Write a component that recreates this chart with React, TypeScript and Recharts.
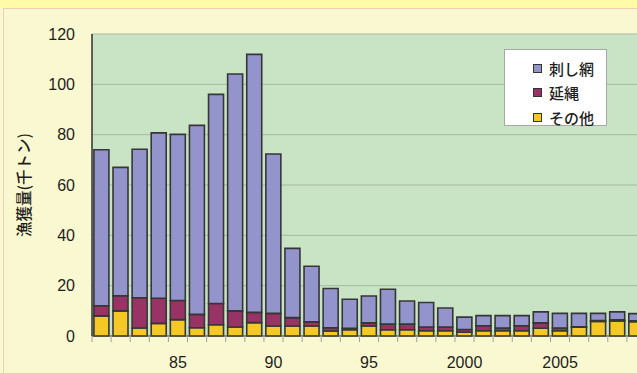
import { BarChart, Bar, XAxis, YAxis, CartesianGrid, Legend } from 'recharts'

// 年（1981〜2009、右端は画像の外にはみ出す）
const years = [
  1981, 1982, 1983, 1984, 1985, 1986, 1987, 1988, 1989, 1990,
  1991, 1992, 1993, 1994, 1995, 1996, 1997, 1998, 1999, 2000,
  2001, 2002, 2003, 2004, 2005, 2006, 2007, 2008, 2009,
]
// 刺し網
const gillnet = [
  62, 51, 59, 65.7, 66, 75.1, 83.1, 94.1, 102.5, 63.3,
  27.5, 22.1, 15.6, 11.5, 10.7, 13.9, 9.2, 9.7, 7.5, 4.9,
  4, 4.9, 4, 4.4, 5.8, 5.3, 2.9, 3.2, 2.9,
]
// 延縄
const longline = [
  4, 6, 12, 10, 7.6, 5.3, 8.4, 6.4, 4.1, 5,
  3.3, 1.6, 1.3, 0.6, 1.2, 2.2, 2.2, 1.5, 1.5, 1.1,
  2, 1.1, 2, 2.1, 1.1, 0.2, 0.3, 0.4, 0.3,
]
// その他
const others = [
  8, 10, 3.2, 5, 6.5, 3.3, 4.5, 3.6, 5.3, 4,
  4, 4, 2, 2.5, 4, 2.5, 2.5, 2.1, 2.1, 1.5,
  2.1, 2.1, 2.1, 3.1, 2.1, 3.5, 5.8, 6, 5.7,
]
const yTicks = [0, 20, 40, 60, 80, 100, 120]

const series = [
  { key: 'gillnet', name: '刺し網', color: '#9494CC' },
  { key: 'longline', name: '延縄', color: '#993366' },
  { key: 'others', name: 'その他', color: '#F5C823' },
]

const data = years.map((year, i) => ({
  year,
  gillnet: gillnet[i],
  longline: longline[i],
  others: others[i],
}))

const W = 656
const H = 373
const Y_W = 92
const X_H = 37
const MARGIN = { top: 34, right: 10, left: 0, bottom: 0 }
const BAND = (W - MARGIN.left - MARGIN.right - Y_W) / years.length

const FONT = '"Liberation Sans", Arial, "Noto Sans CJK JP", sans-serif'
const JP_FONT = '"Noto Sans CJK JP", sans-serif'

const YearTick = ({ x, y, payload }: any) => {
  const yr = payload.value as number
  const lx = x - BAND / 2
  const show = yr % 5 === 0
  const label = yr < 2000 ? String(yr - 1900) : String(yr)
  return (
    <g>
      <line x1={lx} x2={lx} y1={y} y2={y + 6} stroke="#a0a0a0" strokeWidth={1} />
      {show && (
        <text x={x} y={y + 32} textAnchor="middle" fontSize={16} fill="#1e1e1e" fontFamily={FONT}>
          {label}
        </text>
      )}
    </g>
  )
}

const LegendBox = () => (
  <div
    style={{
      width: 103,
      height: 77,
      boxSizing: 'border-box',
      background: '#fff',
      border: '1px solid #a8a8a8',
      padding: '6px 0 0 28px',
      fontFamily: JP_FONT,
      fontSize: 15,
      fontWeight: 500,
      color: '#1e1e1e',
    }}
  >
    {series.map(s => (
      <div key={s.key} style={{ display: 'flex', alignItems: 'center', height: 24.5 }}>
        <span
          style={{
            display: 'inline-block',
            width: 7,
            height: 7,
            background: s.color,
            border: '1px solid #333',
            marginRight: 7,
          }}
        />
        <span>{s.name}</span>
      </div>
    ))}
  </div>
)

export default function App() {
  return (
    <div
      style={{
        position: 'fixed',
        left: 0,
        top: 0,
        width: 637,
        height: 373,
        overflow: 'hidden',
        background: '#FAF8D0',
      }}
    >
      <div style={{ position: 'absolute', left: 0, top: 0, width: 637, height: 8, background: '#FFFBA6' }} />
      <div
        style={{
          position: 'absolute',
          left: 3,
          top: 8,
          width: 640,
          height: 370,
          borderTop: '1px solid #F2CDB0',
          borderLeft: '1px solid #F2CDB0',
        }}
      />
      <div style={{ position: 'absolute', left: 0, top: 0 }}>
        <BarChart width={W} height={H} data={data} margin={MARGIN} barCategoryGap="10%">
          <CartesianGrid vertical={false} stroke="#A6B8A2" fill="#C8E4C4" />
          <XAxis
            dataKey="year"
            height={X_H}
            interval={0}
            tickSize={0}
            tickMargin={0}
            tickLine={false}
            axisLine={{ stroke: '#505050', strokeWidth: 1 }}
            tick={<YearTick />}
          />
          <XAxis
            xAxisId="top"
            dataKey="year"
            orientation="top"
            height={0}
            tick={false}
            tickLine={false}
            axisLine={{ stroke: '#404040', strokeWidth: 1.5 }}
          />
          <YAxis
            width={Y_W}
            domain={[0, 120]}
            ticks={yTicks}
            interval={0}
            tickLine={false}
            tickMargin={11}
            axisLine={{ stroke: '#303030', strokeWidth: 1.5 }}
            tick={{ fontSize: 16, fill: '#1e1e1e', fontFamily: FONT }}
            label={{
              value: '漁獲量(千トン)',
              angle: -90,
              position: 'insideLeft',
              offset: 24,
              style: { textAnchor: 'middle', fontSize: 15.5, fontWeight: 500, fill: '#1e1e1e', fontFamily: JP_FONT },
            }}
          />
          <Legend
            layout="vertical"
            align="center"
            verticalAlign="middle"
            content={<LegendBox />}
            wrapperStyle={{ position: 'absolute', top: 49, left: 504, width: 103, height: 77 }}
          />
          <Bar dataKey="others" name="その他" stackId="a" fill="#F5C823" stroke="#363636" strokeWidth={1.6} isAnimationActive={false} />
          <Bar dataKey="longline" name="延縄" stackId="a" fill="#993366" stroke="#363636" strokeWidth={1.6} isAnimationActive={false} />
          <Bar dataKey="gillnet" name="刺し網" stackId="a" fill="#9494CC" stroke="#363636" strokeWidth={1.6} isAnimationActive={false} />
        </BarChart>
      </div>
    </div>
  )
}
